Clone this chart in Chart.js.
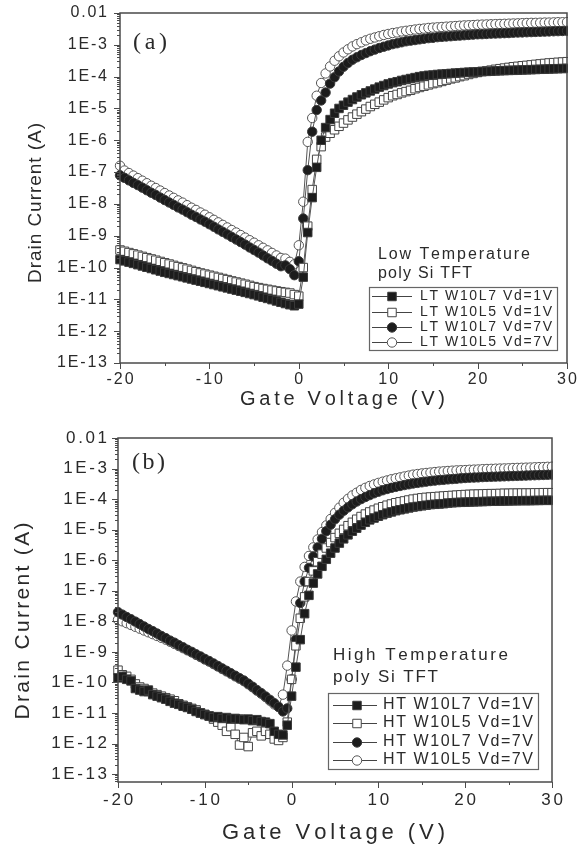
<!DOCTYPE html>
<html><head><meta charset="utf-8">
<script src="https://cdn.jsdelivr.net/npm/chart.js@4.4.1/dist/chart.umd.min.js"></script>
<style>
html,body{margin:0;padding:0;background:#fff;width:581px;height:848px;overflow:hidden}
canvas{position:absolute;left:0}
#ca{top:0}#cb{top:420px}
</style></head><body>
<canvas id="ca" width="581" height="420"></canvas>
<canvas id="cb" width="581" height="428"></canvas>
<script>
// ---------- data ----------
const gateV = [
-20,-19.5,-19,-18.5,-18,-17.5,-17,-16.5,-16,-15.5,
-15,-14.5,-14,-13.5,-13,-12.5,-12,-11.5,-11,-10.5,
-10,-9.5,-9,-8.5,-8,-7.5,-7,-6.5,-6,-5.5,
-5,-4.5,-4,-3.5,-3,-2.5,-2,-1.5,-1,-0.5,
0,0.5,1,1.5,2,2.5,3,3.5,4,4.5,
5,5.5,6,6.5,7,7.5,8,8.5,9,9.5,
10,10.5,11,11.5,12,12.5,13,13.5,14,14.5,
15,15.5,16,16.5,17,17.5,18,18.5,19,19.5,
20,20.5,21,21.5,22,22.5,23,23.5,24,24.5,
25,25.5,26,26.5,27,27.5,28,28.5,29,29.5,
30];

// Panel (a) Low Temperature poly Si TFT
const ltL7Vd1 = [
1.78e-10,1.62e-10,1.48e-10,1.35e-10,1.23e-10,1.12e-10,1.02e-10,9.33e-11,8.51e-11,7.76e-11,
7.08e-11,6.53e-11,6.03e-11,5.56e-11,5.13e-11,4.73e-11,4.37e-11,4.03e-11,3.72e-11,3.43e-11,
3.16e-11,2.92e-11,2.69e-11,2.48e-11,2.29e-11,2.11e-11,1.95e-11,1.80e-11,1.66e-11,1.53e-11,
1.41e-11,1.29e-11,1.17e-11,1.07e-11,9.8e-12,8.9e-12,8.1e-12,7.4e-12,6.8e-12,6.3e-12,
7.1e-12,5.0e-11,1.26e-9,1.58e-8,1.41e-7,1.0e-6,2.51e-6,4.47e-6,7.08e-6,1.0e-5,
1.26e-5,1.58e-5,1.91e-5,2.29e-5,2.69e-5,3.09e-5,3.55e-5,4.07e-5,4.68e-5,5.25e-5,
5.89e-5,6.46e-5,6.92e-5,7.59e-5,8.13e-5,8.71e-5,9.33e-5,1.0e-4,1.05e-4,1.10e-4,
1.12e-4,1.17e-4,1.20e-4,1.23e-4,1.26e-4,1.29e-4,1.32e-4,1.35e-4,1.38e-4,1.40e-4,
1.41e-4,1.45e-4,1.46e-4,1.48e-4,1.51e-4,1.53e-4,1.55e-4,1.57e-4,1.58e-4,1.60e-4,
1.62e-4,1.64e-4,1.66e-4,1.68e-4,1.70e-4,1.72e-4,1.74e-4,1.76e-4,1.78e-4,1.80e-4,
1.82e-4];
const ltL5Vd1 = [
3.55e-10,3.24e-10,2.95e-10,2.69e-10,2.45e-10,2.24e-10,2.04e-10,1.86e-10,1.70e-10,1.55e-10,
1.41e-10,1.29e-10,1.17e-10,1.07e-10,9.77e-11,8.91e-11,8.13e-11,7.41e-11,6.76e-11,6.24e-11,
5.75e-11,5.31e-11,4.90e-11,4.52e-11,4.17e-11,3.80e-11,3.51e-11,3.24e-11,2.99e-11,2.75e-11,
2.51e-11,2.34e-11,2.19e-11,2.07e-11,1.95e-11,1.84e-11,1.74e-11,1.66e-11,1.58e-11,1.41e-11,
1.26e-11,1.0e-10,2.0e-9,2.82e-8,2.51e-7,6.31e-7,1.26e-6,1.66e-6,2.14e-6,2.75e-6,
3.47e-6,4.37e-6,5.37e-6,6.61e-6,7.94e-6,9.55e-6,1.15e-5,1.35e-5,1.58e-5,1.86e-5,
2.19e-5,2.51e-5,2.75e-5,3.09e-5,3.39e-5,3.72e-5,4.17e-5,4.57e-5,5.01e-5,5.50e-5,
6.03e-5,6.46e-5,7.08e-5,7.76e-5,8.51e-5,9.12e-5,1.0e-4,1.07e-4,1.17e-4,1.26e-4,
1.35e-4,1.45e-4,1.51e-4,1.60e-4,1.70e-4,1.78e-4,1.86e-4,1.95e-4,2.04e-4,2.11e-4,
2.19e-4,2.26e-4,2.34e-4,2.43e-4,2.51e-4,2.60e-4,2.69e-4,2.75e-4,2.82e-4,2.88e-4,
2.95e-4];
const ltL7Vd7 = [
7.94e-8,6.61e-8,5.50e-8,4.57e-8,3.89e-8,3.24e-8,2.69e-8,2.24e-8,1.91e-8,1.58e-8,
1.32e-8,1.11e-8,9.33e-9,7.76e-9,6.61e-9,5.50e-9,4.57e-9,3.89e-9,3.24e-9,2.75e-9,
2.29e-9,1.91e-9,1.58e-9,1.32e-9,1.10e-9,9.12e-10,7.59e-10,6.31e-10,5.25e-10,4.27e-10,
3.55e-10,2.95e-10,2.40e-10,1.95e-10,1.62e-10,1.32e-10,1.10e-10,1.17e-10,8.91e-11,5.75e-11,
1.58e-10,3.47e-9,1.15e-7,1.86e-6,8.91e-6,1.78e-5,3.16e-5,6.03e-5,9.55e-5,1.45e-4,
2.04e-4,2.69e-4,3.39e-4,4.07e-4,4.79e-4,5.50e-4,6.31e-4,7.08e-4,7.94e-4,8.71e-4,
9.55e-4,1.05e-3,1.12e-3,1.20e-3,1.29e-3,1.35e-3,1.41e-3,1.48e-3,1.55e-3,1.62e-3,
1.66e-3,1.74e-3,1.78e-3,1.82e-3,1.86e-3,1.91e-3,1.95e-3,2.00e-3,2.04e-3,2.09e-3,
2.14e-3,2.16e-3,2.19e-3,2.24e-3,2.26e-3,2.29e-3,2.32e-3,2.34e-3,2.40e-3,2.43e-3,
2.45e-3,2.48e-3,2.51e-3,2.54e-3,2.57e-3,2.60e-3,2.63e-3,2.66e-3,2.69e-3,2.72e-3,
2.75e-3];
const ltL5Vd7 = [
1.58e-7,1.12e-7,9.33e-8,7.76e-8,6.46e-8,5.37e-8,4.47e-8,3.72e-8,3.16e-8,2.63e-8,
2.19e-8,1.84e-8,1.55e-8,1.29e-8,1.10e-8,9.12e-9,7.59e-9,6.46e-9,5.37e-9,4.57e-9,
3.80e-9,3.16e-9,2.63e-9,2.19e-9,1.82e-9,1.51e-9,1.26e-9,1.05e-9,8.71e-10,7.24e-10,
6.03e-10,5.01e-10,4.17e-10,3.47e-10,2.88e-10,2.40e-10,2.00e-10,1.91e-10,1.51e-10,1.26e-10,
5.01e-10,1.17e-8,8.91e-7,5.01e-6,2.51e-5,6.31e-5,1.26e-4,2.09e-4,3.16e-4,4.37e-4,
5.75e-4,7.24e-4,8.91e-4,1.05e-3,1.20e-3,1.38e-3,1.55e-3,1.70e-3,1.86e-3,2.04e-3,
2.19e-3,2.34e-3,2.45e-3,2.63e-3,2.75e-3,2.88e-3,3.02e-3,3.16e-3,3.24e-3,3.39e-3,
3.47e-3,3.55e-3,3.63e-3,3.72e-3,3.80e-3,3.89e-3,3.98e-3,4.07e-3,4.12e-3,4.17e-3,
4.27e-3,4.32e-3,4.37e-3,4.42e-3,4.47e-3,4.52e-3,4.57e-3,4.62e-3,4.68e-3,4.73e-3,
4.79e-3,4.84e-3,4.90e-3,4.90e-3,4.95e-3,5.01e-3,5.01e-3,5.07e-3,5.13e-3,5.13e-3,
5.19e-3];

// Panel (b) High Temperature poly Si TFT
const htL7Vd1 = [
1.41e-10,1.58e-10,1.26e-10,1.12e-10,6.31e-11,5.62e-11,5.01e-11,5.62e-11,3.98e-11,3.55e-11,
3.16e-11,2.82e-11,2.40e-11,2.09e-11,1.91e-11,1.66e-11,1.51e-11,1.32e-11,1.12e-11,1.00e-11,
8.91e-12,7.94e-12,7.08e-12,7.59e-12,6.61e-12,7.08e-12,6.31e-12,6.61e-12,6.31e-12,6.03e-12,
6.31e-12,5.62e-12,6.03e-12,5.25e-12,5.01e-12,4.47e-12,2.51e-12,2.00e-12,1.91e-12,3.98e-12,
3.55e-11,3.16e-10,2.51e-9,1.78e-8,7.08e-8,1.78e-7,3.55e-7,6.31e-7,1.07e-6,1.70e-6,
2.51e-6,3.63e-6,5.01e-6,6.76e-6,8.91e-6,1.12e-5,1.41e-5,1.74e-5,2.09e-5,2.40e-5,
2.75e-5,3.09e-5,3.47e-5,3.80e-5,4.17e-5,4.47e-5,4.79e-5,5.13e-5,5.50e-5,5.75e-5,
6.03e-5,6.31e-5,6.61e-5,6.76e-5,6.92e-5,7.08e-5,7.41e-5,7.59e-5,7.76e-5,7.85e-5,
7.94e-5,8.04e-5,8.13e-5,8.22e-5,8.32e-5,8.41e-5,8.51e-5,8.51e-5,8.61e-5,8.71e-5,
8.71e-5,8.81e-5,8.81e-5,8.91e-5,8.91e-5,8.91e-5,9.02e-5,9.02e-5,9.12e-5,9.12e-5,
9.12e-5];
const htL5Vd1 = [
2.51e-10,1.78e-10,1.58e-10,1.26e-10,8.91e-11,7.08e-11,6.31e-11,5.01e-11,4.47e-11,3.98e-11,
3.55e-11,3.16e-11,2.82e-11,2.51e-11,2.00e-11,1.78e-11,1.58e-11,1.41e-11,1.26e-11,1.00e-11,
8.91e-12,7.94e-12,6.31e-12,5.01e-12,3.98e-12,2.51e-12,3.55e-12,2.00e-12,8.91e-13,1.58e-12,
7.94e-13,2.24e-12,2.51e-12,1.78e-12,2.51e-12,2.00e-12,1.41e-12,1.26e-12,1.58e-12,5.01e-12,
1.26e-10,1.58e-9,1.26e-8,6.31e-8,2.00e-7,4.47e-7,8.91e-7,1.58e-6,2.51e-6,3.80e-6,
5.50e-6,7.59e-6,1.02e-5,1.35e-5,1.74e-5,2.19e-5,2.69e-5,3.24e-5,3.80e-5,4.37e-5,
5.01e-5,5.62e-5,6.31e-5,6.92e-5,7.59e-5,8.13e-5,8.71e-5,9.33e-5,1.00e-4,1.05e-4,
1.10e-4,1.14e-4,1.17e-4,1.20e-4,1.23e-4,1.26e-4,1.29e-4,1.32e-4,1.35e-4,1.38e-4,
1.41e-4,1.43e-4,1.45e-4,1.46e-4,1.48e-4,1.50e-4,1.51e-4,1.51e-4,1.53e-4,1.55e-4,
1.55e-4,1.57e-4,1.57e-4,1.58e-4,1.58e-4,1.58e-4,1.60e-4,1.60e-4,1.62e-4,1.62e-4,
1.62e-4];
const htL7Vd7 = [
2.00e-8,1.66e-8,1.38e-8,1.17e-8,9.77e-9,8.13e-9,6.76e-9,5.62e-9,4.79e-9,3.98e-9,
3.31e-9,2.82e-9,2.34e-9,2.00e-9,1.66e-9,1.41e-9,1.17e-9,1.00e-9,8.32e-10,7.08e-10,
5.89e-10,5.01e-10,4.17e-10,3.47e-10,2.88e-10,2.40e-10,2.00e-10,1.66e-10,1.38e-10,1.15e-10,
9.12e-11,7.24e-11,5.62e-11,4.47e-11,3.47e-11,2.69e-11,2.09e-11,1.58e-11,1.12e-11,1.41e-11,
1.26e-10,2.51e-9,3.98e-8,2.00e-7,5.62e-7,1.32e-6,2.63e-6,5.01e-6,8.91e-6,1.45e-5,
2.19e-5,3.09e-5,4.17e-5,5.37e-5,6.76e-5,8.32e-5,1.00e-4,1.17e-4,1.35e-4,1.55e-4,
1.74e-4,1.95e-4,2.14e-4,2.34e-4,2.51e-4,2.69e-4,2.88e-4,3.05e-4,3.24e-4,3.39e-4,
3.55e-4,3.72e-4,3.89e-4,4.03e-4,4.17e-4,4.27e-4,4.42e-4,4.52e-4,4.62e-4,4.79e-4,
4.90e-4,5.01e-4,5.07e-4,5.13e-4,5.25e-4,5.31e-4,5.37e-4,5.43e-4,5.50e-4,5.56e-4,
5.62e-4,5.69e-4,5.75e-4,5.82e-4,5.89e-4,5.96e-4,6.03e-4,6.10e-4,6.17e-4,6.24e-4,
6.31e-4];
const htL5Vd7 = [
1.12e-8,1.00e-8,8.71e-9,7.59e-9,6.61e-9,5.75e-9,5.01e-9,4.37e-9,3.80e-9,3.31e-9,
2.88e-9,2.51e-9,2.14e-9,1.82e-9,1.55e-9,1.32e-9,1.12e-9,9.55e-10,7.94e-10,6.76e-10,
5.62e-10,4.79e-10,3.98e-10,3.31e-10,2.75e-10,2.29e-10,1.91e-10,1.58e-10,1.32e-10,1.10e-10,
8.71e-11,6.92e-11,5.37e-11,4.27e-11,3.31e-11,2.51e-11,1.91e-11,1.58e-11,3.98e-11,3.55e-10,
5.01e-9,4.47e-8,2.00e-7,6.03e-7,1.38e-6,2.63e-6,4.79e-6,8.32e-6,1.38e-5,2.24e-5,
3.55e-5,5.25e-5,7.59e-5,1.02e-4,1.32e-4,1.62e-4,2.00e-4,2.34e-4,2.69e-4,3.02e-4,
3.39e-4,3.72e-4,4.07e-4,4.47e-4,4.79e-4,5.13e-4,5.50e-4,5.89e-4,6.31e-4,6.61e-4,
6.92e-4,7.16e-4,7.41e-4,7.67e-4,7.94e-4,8.13e-4,8.32e-4,8.51e-4,8.71e-4,8.81e-4,
8.91e-4,9.12e-4,9.23e-4,9.33e-4,9.55e-4,9.66e-4,9.77e-4,9.89e-4,1.00e-3,1.01e-3,
1.02e-3,1.04e-3,1.05e-3,1.06e-3,1.07e-3,1.08e-3,1.10e-3,1.11e-3,1.12e-3,1.14e-3,
1.15e-3];

// tick values / labels
const yTickValues = [1e-2,1e-3,1e-4,1e-5,1e-6,1e-7,1e-8,1e-9,1e-10,1e-11,1e-12,1e-13];
const yTickLabels = ["0.01","1E-3","1E-4","1E-5","1E-6","1E-7","1E-8","1E-9","1E-10","1E-11","1E-12","1E-13"];
const xTickValues = [-20,-10,0,10,20,30];
const xTickLabels = ["-20","-10","0","10","20","30"];
const xMinorValues = [-15,-5,5,15,25];
const ltLegend = ["LT W10L7 Vd=1V","LT W10L5 Vd=1V","LT W10L7 Vd=7V","LT W10L5 Vd=7V"];
const htLegend = ["HT W10L7 Vd=1V","HT W10L5 Vd=1V","HT W10L7 Vd=7V","HT W10L5 Vd=7V"];
const ltHeader = ["Low Temperature","poly Si TFT"];
const htHeader = ["High Temperature","poly Si TFT"];
const xTitle = "Gate Voltage (V)";
const yTitle = "Drain Current (A)";

// ---------- styles ----------
const INK = '#2a2a2a';
const SANS = '"Liberation Sans", Arial, sans-serif';
const SERIF = '"Liberation Serif", "Times New Roman", serif';
const markerStyles = [
  {pointStyle:'rect', pointRadius:6.0, bg:'#1c1c1c', border:'#3a3a3a'},
  {pointStyle:'rect', pointRadius:6.0, bg:'#ffffff', border:'#444444'},
  {pointStyle:'circle', pointRadius:4.7, bg:'#1c1c1c', border:'#3a3a3a'},
  {pointStyle:'circle', pointRadius:4.7, bg:'#ffffff', border:'#555555'}
];

function makeDatasets(series, labels){
  return series.map((arr,i)=>({
    label: labels[i],
    data: gateV.map((v,j)=>({x:v, y:arr[j]})),
    showLine:true,
    borderColor:'#555', borderWidth:1,
    pointStyle: markerStyles[i].pointStyle,
    pointRadius: markerStyles[i].pointRadius,
    pointBackgroundColor: markerStyles[i].bg,
    pointBorderColor: markerStyles[i].border,
    pointBorderWidth: 1,
    fill:false,
    clip:{left:6, top:6, right:1, bottom:6}
  }));
}

function charText(ctx, text, x, y, opts){
  const chars=[...text];
  const ws=chars.map(c=>ctx.measureText(c).width);
  const raw=ws.reduce((a,b)=>a+b,0);
  let gap, total;
  if (opts.width!=null){ gap = chars.length>1 ? (opts.width-raw)/(chars.length-1) : 0; total=opts.width; }
  else { gap=opts.gap||0; total=raw+gap*(chars.length-1); }
  let cx = opts.align==='right' ? x-total : opts.align==='center' ? x-total/2 : x;
  ctx.textAlign='left'; ctx.textBaseline='middle';
  chars.forEach((c,i)=>{ ctx.fillText(c,cx,y); cx+=ws[i]+gap; });
}

function drawMarker(ctx, st, x, y){
  ctx.save();
  ctx.fillStyle=st.bg; ctx.strokeStyle=st.border; ctx.lineWidth=1;
  ctx.beginPath();
  if (st.pointStyle==='rect'){ const s=st.pointRadius*Math.SQRT1_2; ctx.rect(x-s,y-s,2*s,2*s); }
  else { ctx.arc(x,y,st.pointRadius,0,Math.PI*2); }
  ctx.fill(); ctx.stroke();
  ctx.restore();
}

const decoPlugin = {
  id:'deco',
  afterDraw(chart){
    const d = chart.options.plugins.deco;
    const ctx = chart.ctx, a = chart.chartArea;
    const xs = chart.scales.x, ys = chart.scales.y;
    ctx.save();
    ctx.strokeStyle='#4a4a4a'; ctx.lineWidth=1.5;
    ctx.strokeRect(a.left, a.top, a.right-a.left, a.bottom-a.top);
    ctx.lineWidth=1;
    ctx.beginPath();
    for (let n=-14;n<=-2;n++){
      for (let k=1;k<=9;k++){
        const v=k*Math.pow(10,n);
        if (v<ys.min*0.999 || v>ys.max*1.001) continue;
        const py=Math.round(ys.getPixelForValue(v))+0.5;
        const len = k===1 ? 6 : 3;
        ctx.moveTo(a.left-len,py); ctx.lineTo(a.left,py);
      }
    }
    xTickValues.forEach(v=>{ const px=Math.round(xs.getPixelForValue(v))+0.5; ctx.moveTo(px,a.bottom); ctx.lineTo(px,a.bottom+6); });
    xMinorValues.forEach(v=>{ const px=Math.round(xs.getPixelForValue(v))+0.5; ctx.moveTo(px,a.bottom); ctx.lineTo(px,a.bottom+3); });
    ctx.stroke();
    ctx.fillStyle=INK;
    ctx.font = d.yLabelFont+'px '+SANS;
    yTickValues.forEach((v,i)=>{ charText(ctx, yTickLabels[i], d.yLabelRight, ys.getPixelForValue(v), {gap:d.yLabelGap, align:'right'}); });
    ctx.font = d.xLabelFont+'px '+SANS;
    xTickValues.forEach((v,i)=>{ charText(ctx, xTickLabels[i], xs.getPixelForValue(v), d.xLabelY, {gap:d.xLabelGap, align:'center'}); });
    ctx.font = d.xTitleFont+'px '+SANS;
    charText(ctx, xTitle, d.xTitleLeft, d.xTitleY, {width:d.xTitleWidth});
    ctx.save();
    ctx.translate(d.yTitleX, d.yTitleCY); ctx.rotate(-Math.PI/2);
    ctx.font = d.yTitleFont+'px '+SANS;
    charText(ctx, yTitle, 0, 0, {width:d.yTitleWidth, align:'center'});
    ctx.restore();
    ctx.font = d.panelFont+'px '+SERIF;
    charText(ctx, d.panelText, d.panelX, d.panelY, {width:d.panelWidth});
    ctx.font = d.headFont+'px '+SANS;
    d.header.forEach((t,i)=>charText(ctx, t, d.headX, d.headY[i], {width:d.headW[i]}));
    ctx.strokeStyle='#666'; ctx.lineWidth=1.2;
    ctx.strokeRect(d.boxX+0.5, d.boxY+0.5, d.boxW, d.boxH);
    ctx.font = d.rowFont+'px '+SANS;
    d.legend.forEach((t,i)=>{
      const y=d.rowY[i];
      ctx.strokeStyle='#444'; ctx.lineWidth=1;
      ctx.beginPath(); ctx.moveTo(d.lineX1,y+0.5); ctx.lineTo(d.lineX2,y+0.5); ctx.stroke();
      drawMarker(ctx, markerStyles[i], d.markX, y+0.5);
      ctx.fillStyle=INK;
      charText(ctx, t, d.textX, y, {width:d.textW});
    });
    ctx.restore();
  }
};

function makeChart(id, series, labels, yMin, pad, yWidth, xHeight, deco){
  return new Chart(document.getElementById(id), {
    type:'line',
    data:{ datasets: makeDatasets(series, labels) },
    options:{
      responsive:false, animation:false, events:[],
      layout:{ padding: pad },
      plugins:{ legend:{display:false}, tooltip:{enabled:false}, title:{display:false}, deco: deco },
      scales:{
        x:{ type:'linear', min:-20, max:30, grid:{display:false}, border:{display:false},
            ticks:{display:false}, afterFit: s=>{ s.height = xHeight; } },
        y:{ type:'logarithmic', min:yMin, max:1e-2, grid:{display:false}, border:{display:false},
            ticks:{display:false}, afterFit: s=>{ s.width = yWidth; } }
      }
    },
    plugins:[decoPlugin]
  });
}

makeChart('ca', [ltL7Vd1, ltL5Vd1, ltL7Vd7, ltL5Vd7], ltLegend, 1e-13,
  {top:13, right:14, left:0, bottom:0}, 120, 57, {
    yLabelFont:16, yLabelGap:1.8, yLabelRight:107,
    xLabelFont:16, xLabelGap:2, xLabelY:380,
    xTitleFont:20, xTitleLeft:240, xTitleWidth:205, xTitleY:399,
    yTitleFont:19, yTitleX:36, yTitleCY:203, yTitleWidth:160,
    panelFont:24, panelText:'(a)', panelX:133, panelY:43, panelWidth:34,
    header: ltHeader, headFont:16, headX:378, headY:[255,274], headW:[152,94],
    boxX:369, boxY:287, boxW:188, boxH:63,
    legend: ltLegend, rowFont:14, rowY:[296,312,327,342],
    lineX1:372, lineX2:412, markX:392, textX:420, textW:132
  });

makeChart('cb', [htL7Vd1, htL5Vd1, htL7Vd7, htL5Vd7], htLegend, 5.5e-14,
  {top:18, right:29, left:0, bottom:0}, 118, 66, {
    yLabelFont:17, yLabelGap:2.6, yLabelRight:107,
    xLabelFont:17, xLabelGap:2.8, xLabelY:380,
    xTitleFont:22, xTitleLeft:222, xTitleWidth:223, xTitleY:413,
    yTitleFont:21, yTitleX:23, yTitleCY:201, yTitleWidth:197,
    panelFont:24, panelText:'(b)', panelX:132, panelY:43, panelWidth:33,
    header: htHeader, headFont:17, headX:333, headY:[235,257], headW:[175,105],
    boxX:328, boxY:273, boxW:210, boxH:76,
    legend: htLegend, rowFont:16, rowY:[285,303,322,340],
    lineX1:333, lineX2:377, markX:357, textX:383, textW:150
  });
</script>
</body></html>
